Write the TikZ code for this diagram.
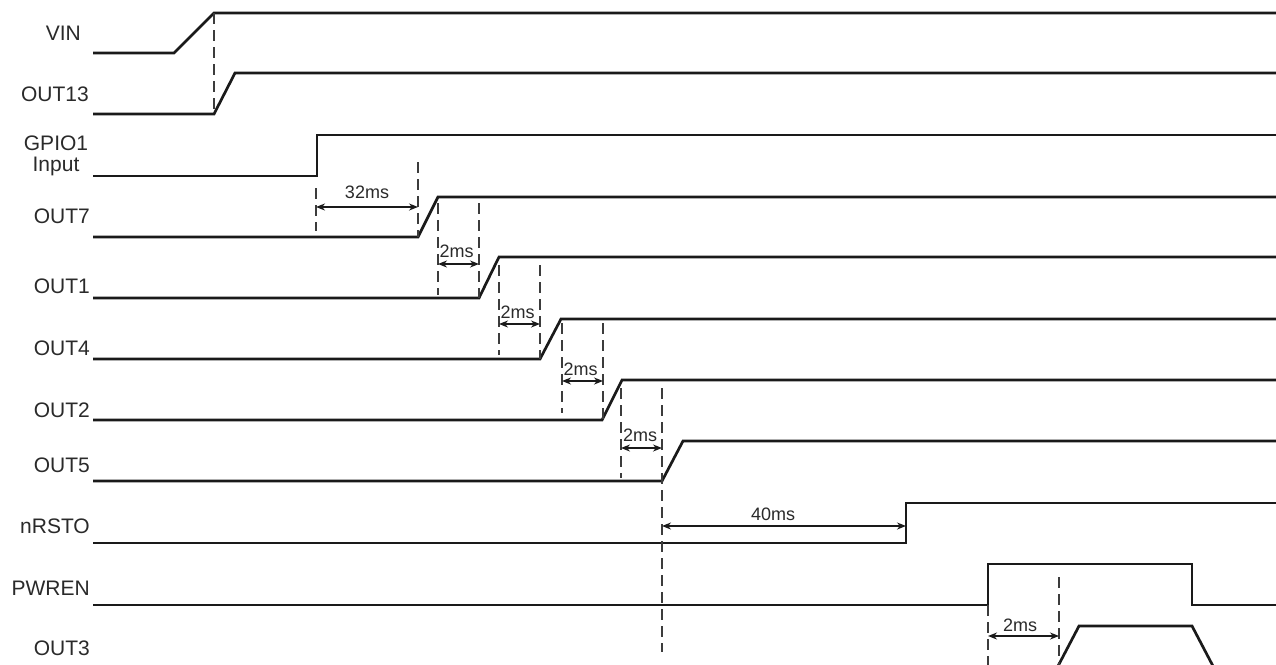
\documentclass[tikz,border=0pt]{standalone}
\usepackage{fontspec}
\setmainfont{Liberation Sans}
\usetikzlibrary{arrows.meta}
\definecolor{ink}{HTML}{1A1A1A}
\definecolor{txt}{HTML}{2A2A2A}
\begin{document}
\begin{tikzpicture}[x=1pt,y=-1pt,
  sig/.style={draw=ink,line width=2.7pt,line join=miter},
  dsh/.style={draw=ink!85,line width=2pt,dash pattern=on 11pt off 6pt},
  dim/.style={draw=ink,line width=1.5pt,{Stealth[length=9pt,width=7pt]}-{Stealth[length=9pt,width=7pt]}},
  lbl/.style={inner sep=0pt,text=txt,font=\fontsize{21}{23}\selectfont,anchor=base east},
  tlbl/.style={inner sep=0pt,text=txt,font=\fontsize{18}{20}\selectfont,anchor=base}]
\useasboundingbox[fill=white] (0,0) rectangle (1276,664);
\clip (0,0) rectangle (1276,664);
% labels
\node[lbl] (lVIN) at (81,40) {VIN};
\node[lbl] (lOUT13) at (89,101) {OUT13};
\node[inner sep=0pt,text=txt,font=\fontsize{21}{21}\selectfont,align=center,anchor=base] (lGPIO) at (56,171) {GPIO1\\Input};
\node[lbl] (lOUT7) at (90,223) {OUT7};
\node[lbl] (lOUT1) at (90,293) {OUT1};
\node[lbl] (lOUT4) at (90,355) {OUT4};
\node[lbl] (lOUT2) at (90,417) {OUT2};
\node[lbl] (lOUT5) at (90,472) {OUT5};
\node[lbl] (lnRSTO) at (90,533) {nRSTO};
\node[lbl] (lPWREN) at (90,595) {PWREN};
\node[lbl] (lOUT3) at (90,655) {OUT3};
% waveforms
\draw[sig] (93,53) -- (174,53) -- (214,13) -- (1276,13);
\draw[sig] (93,114) -- (214,114) -- (235,73) -- (1276,73);
\draw[sig] (93,176) -- (317,176) -- (317,135) -- (1276,135);
\draw[sig] (93,237) -- (418,237) -- (438,197) -- (1276,197);
\draw[sig] (93,298) -- (479,298) -- (499,257) -- (1276,257);
\draw[sig] (93,359) -- (540,359) -- (561,319) -- (1276,319);
\draw[sig] (93,420) -- (602,420) -- (622,380) -- (1276,380);
\draw[sig] (93,481) -- (662,481) -- (683,441) -- (1276,441);
\draw[sig] (93,543) -- (906,543) -- (906,503) -- (1276,503);
\draw[sig] (93,605) -- (988,605) -- (988,564) -- (1192,564) -- (1192,605) -- (1276,605);
\draw[sig] (1057,668) -- (1079,626) -- (1192,626) -- (1214,668);
% markers
\coordinate (m1a) at (214,13);  \coordinate (m1b) at (214,114);
\draw[dsh] (m1a) -- (m1b);
\coordinate (a32) at (316,188); \coordinate (b32) at (316,231);
\coordinate (c32) at (418,162); \coordinate (d32) at (418,237);
\draw[dsh] (a32) -- (b32);
\draw[dsh] (c32) -- (d32);
\coordinate (e32) at (316,207); \coordinate (f32) at (418,207);
\draw[dim] (e32) -- (f32);
\node[tlbl] (t32) at (367,198) {32ms};
% 2ms #1
\coordinate (a1) at (438,203); \coordinate (b1) at (438,295);
\coordinate (c1) at (479,203); \coordinate (d1) at (479,298);
\draw[dsh] (a1) -- (b1); \draw[dsh] (c1) -- (d1);
\coordinate (e1) at (438,264); \coordinate (f1) at (479,264);
\draw[dim] (e1) -- (f1);
\node[tlbl] (t1) at (456.5,257) {2ms};
% 2ms #2
\coordinate (a2) at (499,265); \coordinate (b2) at (499,355);
\coordinate (c2) at (540,265); \coordinate (d2) at (540,359);
\draw[dsh] (a2) -- (b2); \draw[dsh] (c2) -- (d2);
\coordinate (e2) at (499,324); \coordinate (f2) at (540,324);
\draw[dim] (e2) -- (f2);
\node[tlbl] (t2) at (517.5,318) {2ms};
% 2ms #3
\coordinate (a3) at (562,323); \coordinate (b3) at (562,413);
\coordinate (c3) at (603,323); \coordinate (d3) at (603,420);
\draw[dsh] (a3) -- (b3); \draw[dsh] (c3) -- (d3);
\coordinate (e3) at (562,381); \coordinate (f3) at (603,381);
\draw[dim] (e3) -- (f3);
\node[tlbl] (t3) at (580.5,375) {2ms};
% 2ms #4
\coordinate (a4) at (621,388); \coordinate (b4) at (621,478);
\coordinate (c4) at (662,388); \coordinate (d4) at (662,652);
\draw[dsh] (a4) -- (b4); \draw[dsh] (c4) -- (d4);
\coordinate (e4) at (621,448); \coordinate (f4) at (662,448);
\draw[dim] (e4) -- (f4);
\node[tlbl] (t4) at (640,441) {2ms};
% 40ms
\coordinate (e40) at (662,526); \coordinate (f40) at (906,526);
\draw[dim] (e40) -- (f40);
\node[tlbl] (t40) at (773,520) {40ms};
% PWREN 2ms
\coordinate (a5) at (988,605); \coordinate (b5) at (988,666);
\coordinate (c5) at (1059,577); \coordinate (d5) at (1059,666);
\draw[dsh] (a5) -- (b5); \draw[dsh] (c5) -- (d5);
\coordinate (e5) at (988,636); \coordinate (f5) at (1059,636);
\draw[dim] (e5) -- (f5);
\node[tlbl] (t5) at (1020,631) {2ms};
\end{tikzpicture}
\end{document}
